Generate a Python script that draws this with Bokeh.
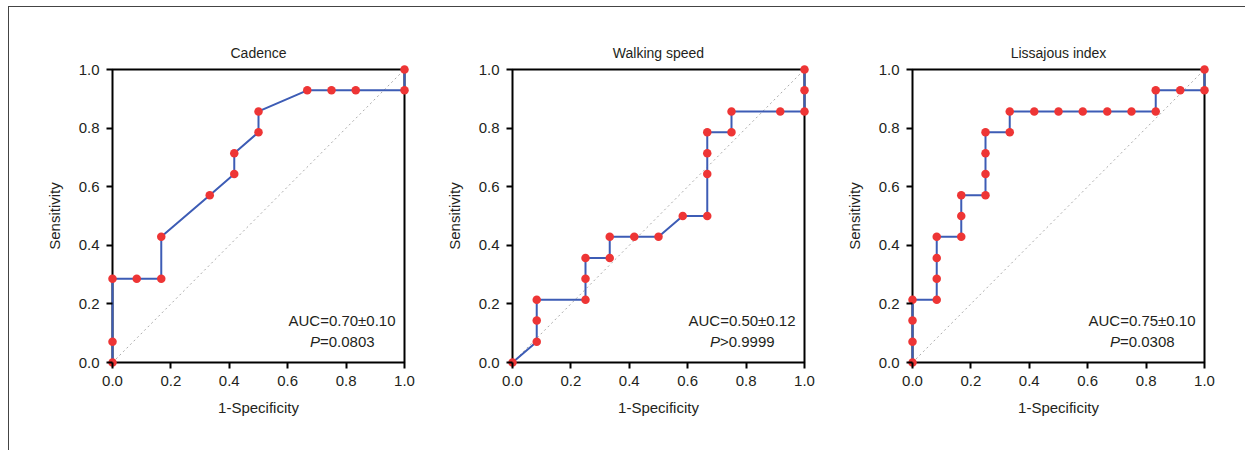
from bokeh.plotting import figure
from bokeh.layouts import row
from bokeh.models import FixedTicker, Range1d
from bokeh.core.properties import value
from bokeh.embed import file_html
from bokeh.resources import INLINE

# ---------------- data ----------------
titles = ["Cadence", "Walking speed", "Lissajous index"]

cadence_fpr = [0, 0, 0, 0.083, 0.167, 0.167, 0.333, 0.417, 0.417, 0.5, 0.5,
               0.667, 0.75, 0.833, 1, 1]
cadence_tpr = [0, 0.071, 0.286, 0.286, 0.286, 0.429, 0.571, 0.643, 0.714,
               0.786, 0.857, 0.929, 0.929, 0.929, 0.929, 1]

walking_fpr = [0, 0.083, 0.083, 0.083, 0.25, 0.25, 0.25, 0.333, 0.333, 0.417,
               0.5, 0.583, 0.667, 0.667, 0.667, 0.667, 0.75, 0.75, 0.917, 1, 1, 1]
walking_tpr = [0, 0.071, 0.143, 0.214, 0.214, 0.286, 0.357, 0.357, 0.429, 0.429,
               0.429, 0.5, 0.5, 0.643, 0.714, 0.786, 0.786, 0.857, 0.857, 0.857,
               0.929, 1]

lissajous_fpr = [0, 0, 0, 0, 0.083, 0.083, 0.083, 0.083, 0.167, 0.167, 0.167,
                 0.25, 0.25, 0.25, 0.25, 0.333, 0.333, 0.417, 0.5, 0.583, 0.667,
                 0.75, 0.833, 0.833, 0.917, 1, 1]
lissajous_tpr = [0, 0.071, 0.143, 0.214, 0.214, 0.286, 0.357, 0.429, 0.429, 0.5,
                 0.571, 0.571, 0.643, 0.714, 0.786, 0.786, 0.857, 0.857, 0.857,
                 0.857, 0.857, 0.857, 0.857, 0.929, 0.929, 0.929, 1]

auc_labels = ["AUC=0.70\u00b10.10", "AUC=0.50\u00b10.12", "AUC=0.75\u00b10.10"]
p_letter = "P"
p_rest = ["=0.0803", ">0.9999", "=0.0308"]

ticks = [0, 0.2, 0.4, 0.6, 0.8, 1.0]
tick_labels = ["0.0", "0.2", "0.4", "0.6", "0.8", "1.0"]
x_label = "1-Specificity"
y_label = "Sensitivity"

series = [(cadence_fpr, cadence_tpr), (walking_fpr, walking_tpr),
          (lissajous_fpr, lissajous_tpr)]

# ---------------- style ----------------
FONT = "Liberation Sans"
TXT = "#231f20"
LINE_BLUE = "#3d5cb5"
DOT_RED = "#ee3535"
PAD_X = 8 / 292
PAD_Y = 8 / 293


def make(i, left):
    fpr, tpr = series[i]
    p = figure(frame_width=308, frame_height=309,
               min_border_left=left, min_border_right=4,
               min_border_top=54, min_border_bottom=76,
               x_range=Range1d(ticks[0] - PAD_X, ticks[-1] + PAD_X),
               y_range=Range1d(ticks[0] - PAD_Y, ticks[-1] + PAD_Y),
               output_backend="svg", toolbar_location=None, title=titles[i])
    p.outline_line_color = None
    p.grid.visible = False
    p.background_fill_color = "white"
    p.border_fill_color = "white"

    p.title.align = "center"
    p.title.text_font = FONT
    p.title.text_font_size = "14px"
    p.title.text_font_style = "normal"
    p.title.text_color = TXT
    p.title.standoff = 1

    for ax in (p.xaxis[0], p.yaxis[0]):
        ax.ticker = FixedTicker(ticks=ticks)
        ax.major_label_overrides = {t: l for t, l in zip(ticks, tick_labels)}
        ax.axis_line_color = None
        ax.major_tick_in = 8
        ax.major_tick_out = -2
        ax.major_tick_line_width = 2
        ax.major_tick_line_color = "black"
        ax.minor_tick_line_color = None
        ax.major_label_text_font = FONT
        ax.major_label_text_font_size = "15px"
        ax.major_label_text_color = TXT
        ax.axis_label_text_font = FONT
        ax.axis_label_text_font_size = "15px"
        ax.axis_label_text_font_style = "normal"
        ax.axis_label_text_color = TXT
    p.xaxis.axis_label = x_label
    p.yaxis.axis_label = y_label
    p.xaxis.major_label_standoff = 5
    p.yaxis.major_label_standoff = 5
    p.xaxis.axis_label_standoff = 10
    p.yaxis.axis_label_standoff = 13

    # reference diagonal
    p.line([ticks[0], ticks[-1]], [ticks[0], ticks[-1]], line_color="#aaaaaa",
           line_width=1, line_dash="2 3")
    # box
    p.quad(left=[ticks[0]], right=[ticks[-1]], bottom=[ticks[0]], top=[ticks[-1]],
           fill_color=None, line_color="black", line_width=2)
    # ROC
    p.line(fpr, tpr, line_color=LINE_BLUE, line_width=2)
    p.scatter(fpr, tpr, size=8.5, fill_color=DOT_RED, line_color=None)

    # annotations
    p.text(x=[0.786], y=[0.142], text=[auc_labels[i]], text_align="center",
           text_baseline="middle", text_font=value(FONT), text_font_size="15px",
           text_color=TXT)
    p.text(x=[0.786], y=[0.073], text=[p_letter], x_offset=-22,
           text_align="right", text_baseline="middle", text_font=value(FONT),
           text_font_size="15px", text_font_style="italic", text_color=TXT)
    p.text(x=[0.786], y=[0.073], text=[p_rest[i]], x_offset=-22,
           text_align="left", text_baseline="middle", text_font=value(FONT),
           text_font_size="15px", text_color=TXT)
    return p


p1 = make(0, 95)
p2 = make(1, 88)
p3 = make(2, 88)

layout = row(p1, p2, p3, styles={"border-top": "1px solid #444",
                                 "border-left": "1px solid #444",
                                 "margin-left": "8px",
                                 "margin-top": "6px",
                                 "padding-right": "29px",
                                 "padding-bottom": "4px"})

open("out.html", "w").write(file_html(layout, INLINE))
